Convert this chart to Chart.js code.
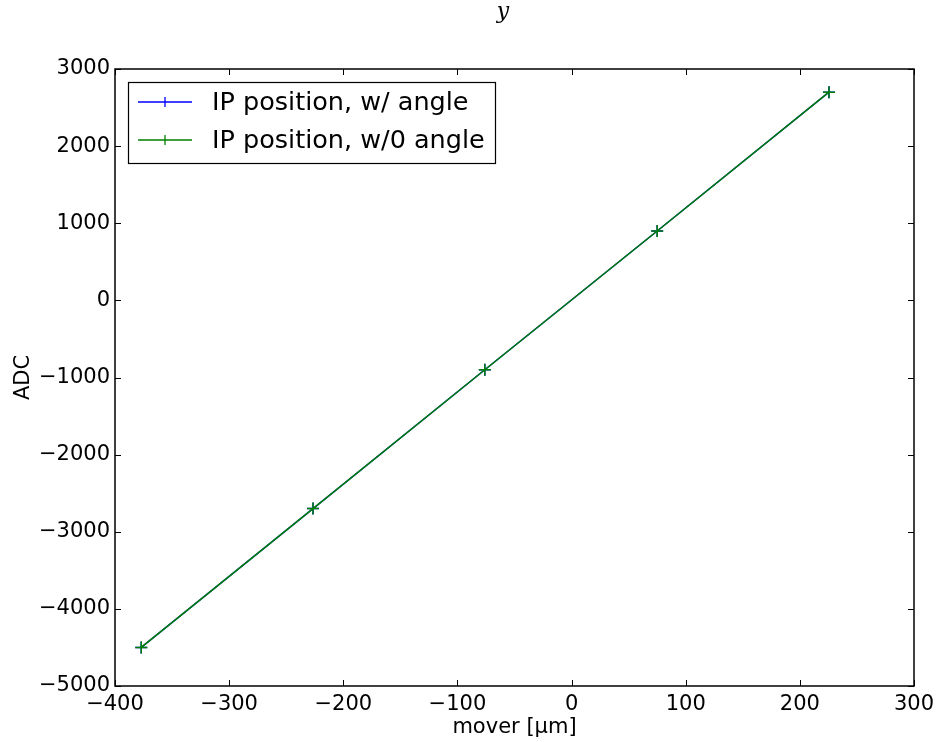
<!DOCTYPE html>
<html>
<head>
<meta charset="utf-8">
<script src="https://cdn.jsdelivr.net/npm/chart.js@4.4.0/dist/chart.umd.min.js"></script>
<style>
  html, body { margin: 0; padding: 0; background: #fff; }
  canvas { display: block; }
</style>
</head>
<body>
<canvas id="adcChart" width="937" height="742"></canvas>
<script>
// values
const moverPos = [-377, -226.5, -76, 75, 225.5];
const adcWithAngle = [-4500, -2700, -900, 900, 2700];
const adcNoAngle = [-4500, -2700, -900, 900, 2700];
const seriesLabels = ['IP position, w/ angle', 'IP position, w/0 angle'];
const seriesColors = ['#0000ff', '#008000'];

const FONT = 'DejaVu Sans';

function toPoints(xs, ys) {
    return xs.map((x, i) => ({ x: x, y: ys[i] }));
}

function minusSign(v) {
    return String(v).replace('-', '\u2212');
}

// box around plot area + inward ticks on all four sides
const frameTicks = {
    id: 'frameTicks',
    afterDatasetsDraw(chart) {
        const { ctx, chartArea: a, scales } = chart;
        const len = 6;
        ctx.save();
        ctx.strokeStyle = '#000';
        ctx.lineWidth = 1;
        scales.x.ticks.forEach(t => {
            const px = Math.round(scales.x.getPixelForValue(t.value)) + 0.5;
            ctx.beginPath();
            ctx.moveTo(px, a.bottom); ctx.lineTo(px, a.bottom - len);
            ctx.moveTo(px, a.top); ctx.lineTo(px, a.top + len);
            ctx.stroke();
        });
        scales.y.ticks.forEach(t => {
            const py = Math.round(scales.y.getPixelForValue(t.value)) + 0.5;
            ctx.beginPath();
            ctx.moveTo(a.left, py); ctx.lineTo(a.left + len, py);
            ctx.moveTo(a.right, py); ctx.lineTo(a.right - len, py);
            ctx.stroke();
        });
        ctx.lineWidth = 1.5;
        ctx.strokeRect(a.left, a.top, a.right - a.left, a.bottom - a.top);
        ctx.restore();
    }
};

// matplotlib-style legend box in the upper left of the plot
const boxLegend = {
    id: 'boxLegend',
    afterDraw(chart) {
        const { ctx, chartArea: a } = chart;
        const x0 = a.left + 13, y0 = a.top + 13;
        const w = 367, h = 81;
        ctx.save();
        ctx.fillStyle = '#fff';
        ctx.fillRect(x0, y0, w, h);
        ctx.strokeStyle = '#000';
        ctx.lineWidth = 1.2;
        ctx.strokeRect(x0 + 0.5, y0 + 0.5, w, h);
        ctx.font = '25.5px "' + FONT + '"';
        ctx.textBaseline = 'middle';
        chart.data.datasets.forEach((ds, i) => {
            const cy = y0 + 20 + i * 38;
            ctx.strokeStyle = ds.borderColor;
            ctx.lineWidth = 1.3;
            ctx.beginPath();
            ctx.moveTo(x0 + 10, cy); ctx.lineTo(x0 + 64, cy);
            ctx.moveTo(x0 + 37, cy - 5); ctx.lineTo(x0 + 37, cy + 5);
            ctx.stroke();
            ctx.fillStyle = '#000';
            ctx.fillText(ds.label, x0 + 84, cy + 1);
        });
        ctx.restore();
    }
};

const topTitle = {
    id: 'topTitle',
    afterDraw(chart) {
        const ctx = chart.ctx;
        ctx.save();
        ctx.font = 'italic 22px "DejaVu Serif"';
        ctx.fillStyle = '#000';
        ctx.textAlign = 'center';
        ctx.textBaseline = 'middle';
        ctx.fillText('y', 503, 12);
        ctx.restore();
    }
};

function makeDataset(label, ys, color, order) {
    return {
        label: label,
        data: toPoints(moverPos, ys),
        showLine: true,
        order: order,
        borderColor: color,
        backgroundColor: color,
        borderWidth: 1.5,
        pointStyle: 'cross',
        pointRadius: 6,
        pointBorderWidth: 1.5,
        pointHoverRadius: 6
    };
}

const ctx = document.getElementById('adcChart').getContext('2d');
new Chart(ctx, {
    type: 'scatter',
    data: {
        datasets: [
            makeDataset(seriesLabels[0], adcWithAngle, seriesColors[0], 1),
            makeDataset(seriesLabels[1], adcNoAngle, seriesColors[1], 0)
        ]
    },
    options: {
        responsive: false,
        animation: false,
        layout: { padding: { top: 69, right: 23, left: 0, bottom: 0 } },
        plugins: {
            legend: { display: false },
            tooltip: { enabled: false },
            title: { display: false }
        },
        scales: {
            x: {
                type: 'linear',
                min: -400,
                max: 300,
                afterFit: s => { s.height = 56; s.paddingLeft = 0; s.paddingRight = 0; },
                grid: { display: false, drawTicks: false },
                border: { display: false },
                ticks: {
                    stepSize: 100,
                    color: '#000',
                    padding: 6,
                    maxRotation: 0,
                    font: { family: FONT, size: 21 },
                    callback: v => minusSign(v)
                },
                title: {
                    display: true,
                    text: 'mover [\u03bcm]',
                    color: '#000',
                    font: { family: FONT, size: 21 },
                    padding: { top: 0, bottom: 2 }
                }
            },
            y: {
                type: 'linear',
                min: -5000,
                max: 3000,
                afterFit: s => { s.width = 115; s.paddingTop = 0; s.paddingBottom = 0; },
                grid: { display: false, drawTicks: false },
                border: { display: false },
                ticks: {
                    stepSize: 1000,
                    color: '#000',
                    padding: 5,
                    font: { family: FONT, size: 21 },
                    callback: v => minusSign(v)
                },
                title: {
                    display: true,
                    text: 'ADC',
                    color: '#000',
                    font: { family: FONT, size: 21 },
                    padding: { top: 11, bottom: 0 }
                }
            }
        }
    },
    plugins: [frameTicks, boxLegend, topTitle]
});
</script>
</body>
</html>
